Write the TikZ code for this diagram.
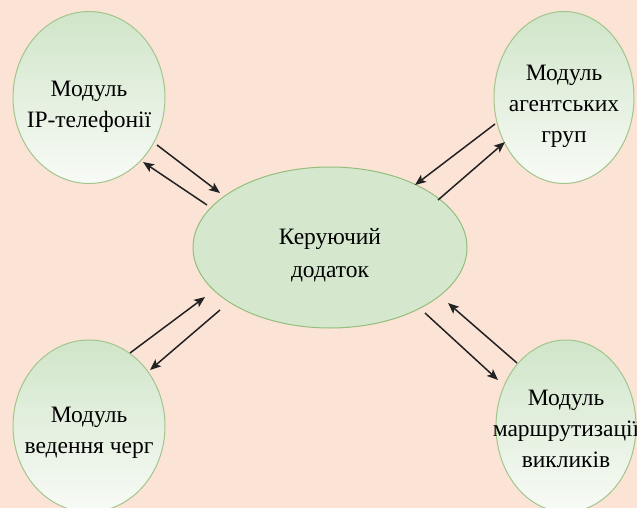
\documentclass[tikz,border=0pt]{standalone}
\usepackage{fontspec}
\setmainfont{Liberation Serif}
\usetikzlibrary{shapes.geometric,arrows.meta}

\definecolor{pagebg}{HTML}{FBE4D6}
\definecolor{modtop}{HTML}{D0E5C9}
\definecolor{modbot}{HTML}{F8FBF6}
\definecolor{modedge}{HTML}{A2C58C}
\definecolor{corefill}{HTML}{D5E8CE}
\definecolor{coreedge}{HTML}{94BE7C}
\definecolor{linkcol}{HTML}{222222}

% centred multi-line label, lowered without changing its extents
\newcommand{\sinktext}[2]{\raisebox{-#1}[\height][\depth]{\begin{tabular}{@{}c@{}}#2\end{tabular}}}

\begin{document}
\begin{tikzpicture}[x=1pt,y=-1pt,
  module/.style={ellipse, draw=modedge, line width=1pt,
    top color=modtop, bottom color=modbot,
    minimum width=152pt, minimum height=172pt,
    inner xsep=-45pt, inner ysep=0pt,
    font=\fontsize{23.5}{31}\selectfont},
  core/.style={ellipse, draw=coreedge, line width=1pt, fill=corefill,
    minimum width=274pt, minimum height=161pt,
    inner xsep=-30pt, inner ysep=0pt,
    font=\fontsize{23.5}{33}\selectfont},
  link/.style={-{Stealth[length=11pt,width=9pt,inset=2.5pt]},
    line width=1.5pt, draw=linkcol}]

  % page
  \fill[pagebg] (0,0) rectangle (637,508);
  \useasboundingbox (0,0) rectangle (637,508);
  \clip (0,0) rectangle (637,508);

  % modules
  \node[module] (ip)    at (89,97.5)  {\sinktext{8pt}{Модуль\\IP-телефонії}};
  \node[module, minimum width=140pt] (agent) at (564,97.5)
    {\sinktext{8pt}{Модуль\\агентських\\груп}};
  \node[module] (queue) at (89,426)   {\sinktext{6pt}{Модуль\\ведення черг}};
  \node[module, minimum width=140pt] (route) at (566,426)
    {\sinktext{4pt}{Модуль\\маршрутизації\\викликів}};

  % control application
  \node[core] (app) at (330,247.5) {\sinktext{7pt}{Керуючий\\додаток}};

  % link end points
  \coordinate (ipOut)    at (157,145);
  \coordinate (appInA)   at (220,193);
  \coordinate (appOutA)  at (207,205);
  \coordinate (ipIn)     at (143,162);

  \coordinate (agentOut) at (495,124);
  \coordinate (appInB)   at (415,185);
  \coordinate (appOutB)  at (438,200);
  \coordinate (agentIn)  at (505,142);

  \coordinate (queueOut) at (130,353);
  \coordinate (appInC)   at (205,297);
  \coordinate (appOutC)  at (220,310);
  \coordinate (queueIn)  at (150,370);

  \coordinate (routeOut) at (517,363);
  \coordinate (appInD)   at (448,303);
  \coordinate (appOutD)  at (425,313);
  \coordinate (routeIn)  at (498,380);

  % links
  \draw[link] (ipOut) -- (appInA);
  \draw[link] (appOutA) -- (ipIn);
  \draw[link] (agentOut) -- (appInB);
  \draw[link] (appOutB) -- (agentIn);
  \draw[link] (queueOut) -- (appInC);
  \draw[link] (appOutC) -- (queueIn);
  \draw[link] (routeOut) -- (appInD);
  \draw[link] (appOutD) -- (routeIn);
\end{tikzpicture}
\end{document}
